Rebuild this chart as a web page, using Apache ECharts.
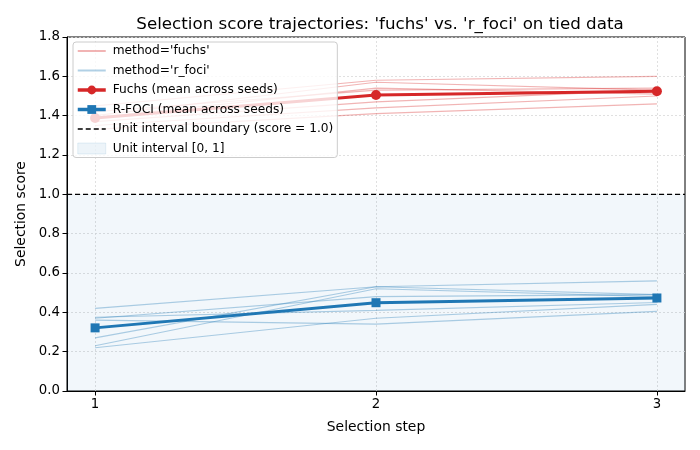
<!DOCTYPE html>
<html>
<head>
<meta charset="utf-8">
<script src="https://cdn.jsdelivr.net/npm/echarts@6/dist/echarts.min.js"></script>
<style>
  html, body { margin: 0; padding: 0; background: #fff; }
  #chart { width: 700px; height: 450px; }
</style>
</head>
<body>
<div id="chart"></div>
<script>
const steps = [1, 2, 3];

// per-seed trajectories
const fuchsSeeds = [
    [1.45, 1.58, 1.60],
    [1.42, 1.53, 1.54],
    [1.40, 1.57, 1.53],
    [1.39, 1.54, 1.51],
    [1.37, 1.47, 1.53],
    [1.35, 1.44, 1.50],
    [1.33, 1.41, 1.46]
];
const rfociSeeds = [
    [0.42, 0.53, 0.56],
    [0.37, 0.48, 0.49],
    [0.375, 0.41, 0.45],
    [0.27, 0.53, 0.49],
    [0.23, 0.52, 0.48],
    [0.22, 0.37, 0.44],
    [0.36, 0.34, 0.405]
];

const fuchsMean = [1.388, 1.505, 1.524];
const rfociMean = [0.321, 0.449, 0.473];

const xTicks = [1, 2, 3];
const boundary = 1.0;

const RED = '#d62728';
const BLUE = '#1f77b4';
const FONT = 'DejaVu Sans';

const chart = echarts.init(document.getElementById('chart'));

function pairs(vals) {
    return vals.map((v, i) => [steps[i], v]);
}

const series = [];

series.push({
    name: 'Unit interval [0, 1]',
    type: 'line',
    data: [],
    silent: true,
    markArea: {
        silent: true,
        itemStyle: { color: 'rgba(31,119,180,0.06)' },
        data: [[{ yAxis: 0 }, { yAxis: boundary }]]
    }
});

fuchsSeeds.forEach(s => {
    series.push({
        name: "method='fuchs'",
        type: 'line',
        data: pairs(s),
        symbol: 'none',
        lineStyle: { color: RED, width: 1.2, opacity: 0.35 },
        itemStyle: { color: RED, opacity: 0.35 },
        z: 2
    });
});

rfociSeeds.forEach(s => {
    series.push({
        name: "method='r_foci'",
        type: 'line',
        data: pairs(s),
        symbol: 'none',
        lineStyle: { color: BLUE, width: 1.2, opacity: 0.35 },
        itemStyle: { color: BLUE, opacity: 0.35 },
        z: 2
    });
});

series.push({
    name: 'Fuchs (mean across seeds)',
    type: 'line',
    data: pairs(fuchsMean),
    symbol: 'circle',
    symbolSize: 10,
    lineStyle: { color: RED, width: 3 },
    itemStyle: { color: RED },
    z: 3
});

series.push({
    name: 'R-FOCI (mean across seeds)',
    type: 'line',
    data: pairs(rfociMean),
    symbol: 'rect',
    symbolSize: 9,
    lineStyle: { color: BLUE, width: 3 },
    itemStyle: { color: BLUE },
    z: 3
});

series.push({
    name: 'Unit interval boundary (score = 1.0)',
    type: 'line',
    data: [[0.9, boundary], [3.1, boundary]],
    symbol: 'none',
    lineStyle: { color: '#000', width: 1.3, type: [5, 3] },
    itemStyle: { color: '#000' },
    z: 3
});

const noMarker = { opacity: 0 };

chart.setOption({
    animation: false,
    backgroundColor: '#fff',
    textStyle: { fontFamily: FONT },
    title: {
        text: "Selection score trajectories: 'fuchs' vs. 'r_foci' on tied data",
        left: 375,
        textAlign: 'center',
        top: 11,
        textStyle: { fontFamily: FONT, fontSize: 16.7, fontWeight: 'normal', color: '#000' }
    },
    grid: {
        left: 67, right: 15, top: 37, bottom: 59,
        show: true,
        borderColor: '#000',
        borderWidth: 1,
        backgroundColor: 'transparent'
    },
    legend: {
        left: 73,
        top: 42,
        z: 10,
        orient: 'vertical',
        itemGap: 7.5,
        itemWidth: 28,
        itemHeight: 11,
        padding: [3, 4, 3, 3],
        backgroundColor: 'rgba(255,255,255,0.8)',
        borderColor: '#cccccc',
        borderWidth: 1,
        borderRadius: 3,
        selectedMode: false,
        textStyle: { fontFamily: FONT, fontSize: 12.2, color: '#000', padding: [0, 0, 0, 2] },
        data: [
            { name: "method='fuchs'", itemStyle: noMarker },
            { name: "method='r_foci'", itemStyle: noMarker },
            { name: 'Fuchs (mean across seeds)', lineStyle: { width: 3.5 } },
            { name: 'R-FOCI (mean across seeds)', lineStyle: { width: 3.5 } },
            { name: 'Unit interval boundary (score = 1.0)', itemStyle: noMarker, lineStyle: { width: 1.6 } },
            {
                name: 'Unit interval [0, 1]',
                icon: 'rect',
                itemStyle: { color: 'rgba(31,119,180,0.08)', borderColor: 'rgba(31,119,180,0.1)', borderWidth: 1 }
            }
        ]
    },
    xAxis: {
        type: 'value',
        min: 0.9,
        max: 3.1,
        name: 'Selection step',
        nameLocation: 'middle',
        nameGap: 29,
        nameTextStyle: { fontFamily: FONT, fontSize: 13.9, color: '#000' },
        axisLine: { lineStyle: { color: '#000', width: 1 } },
        axisTick: { show: true, customValues: xTicks, length: 4.5, lineStyle: { color: '#000' } },
        axisLabel: {
            customValues: xTicks,
            formatter: v => String(v),
            fontFamily: FONT, fontSize: 13.3, color: '#000', margin: 7
        },
        splitLine: { show: true, lineStyle: { color: '#d8d8d8', type: [2, 2], width: 0.8 } }
    },
    yAxis: {
        type: 'value',
        min: 0,
        max: 1.8,
        interval: 0.2,
        name: 'Selection score',
        nameLocation: 'middle',
        nameGap: 37,
        nameTextStyle: { fontFamily: FONT, fontSize: 13.9, color: '#000' },
        axisLine: { show: true, lineStyle: { color: '#000', width: 1 } },
        axisTick: { show: true, length: 4.5, lineStyle: { color: '#000' } },
        axisLabel: {
            formatter: v => v.toFixed(1),
            fontFamily: FONT, fontSize: 13.3, color: '#000', margin: 7
        },
        splitLine: { show: true, lineStyle: { color: '#d8d8d8', type: [2, 2], width: 0.8 } }
    },
    series: series
});
</script>
</body>
</html>
